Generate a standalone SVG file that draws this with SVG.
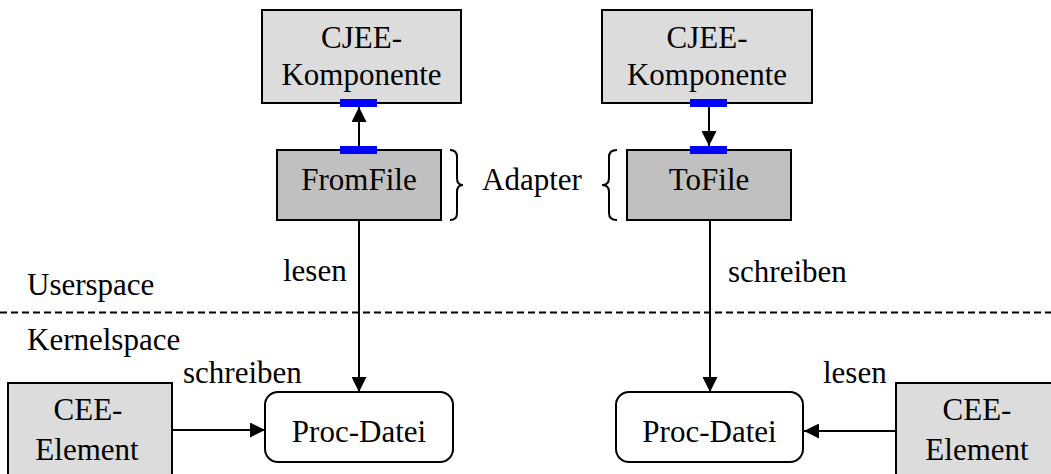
<svg xmlns="http://www.w3.org/2000/svg" width="1051" height="474" viewBox="0 0 1051 474">
  <style>
    text { font-family: "Liberation Serif", "Times New Roman", serif; font-size: 31px; fill: #000; }
    .c { text-anchor: middle; }
    .box { stroke: #000; stroke-width: 2; }
    .light { fill: #dcdcdc; }
    .dark { fill: #c0c0c0; }
    .file { fill: #fff; }
    .port { fill: #0000ff; }
    .edge { stroke: #000; stroke-width: 2; fill: none; }
    .arrow { marker-end: url(#head); }
    .brace { stroke: #000; stroke-width: 2; fill: none; }
  </style>
  <defs>
    <marker id="head" markerUnits="userSpaceOnUse" markerWidth="15" markerHeight="15" refX="15" refY="7.5" orient="auto">
      <path d="M0,0 L15,7.5 L0,15 z" fill="#000"/>
    </marker>
  </defs>

  <rect width="1051" height="474" fill="#fff"/>

  <!-- boundary between user space and kernel space -->
  <line x1="0" y1="312.5" x2="1051" y2="312.5" stroke="#000" stroke-width="2" stroke-dasharray="7,4"/>
  <text x="27" y="295">Userspace</text>
  <text x="27" y="350">Kernelspace</text>

  <!-- connectors -->
  <g id="connectors">
    <line class="edge arrow" x1="359" y1="147" x2="359" y2="107"/>
    <line class="edge arrow" x1="709" y1="107" x2="709" y2="146"/>
    <line class="edge arrow" x1="359" y1="220" x2="359" y2="392"/>
    <line class="edge arrow" x1="710" y1="220" x2="710" y2="392"/>
    <line class="edge arrow" x1="172" y1="430" x2="265" y2="430"/>
    <line class="edge arrow" x1="896" y1="431" x2="804" y2="431"/>
    <text x="283" y="281">lesen</text>
    <text x="728" y="282">schreiben</text>
    <text x="183" y="383">schreiben</text>
    <text x="823" y="383">lesen</text>
  </g>

  <g id="cjee-left">
    <rect class="box light" x="262" y="10" width="199" height="93"/>
    <text class="c" x="361.5" y="48">CJEE-</text>
    <text class="c" x="361.5" y="85">Komponente</text>
    <rect class="port" x="340" y="99" width="37" height="8"/>
  </g>

  <g id="cjee-right">
    <rect class="box light" x="602" y="10" width="210" height="93"/>
    <text class="c" x="707" y="48">CJEE-</text>
    <text class="c" x="707" y="85">Komponente</text>
    <rect class="port" x="690" y="99" width="37" height="8"/>
  </g>

  <g id="fromfile">
    <rect class="box dark" x="277" y="150" width="164" height="70"/>
    <text class="c" x="359" y="190">FromFile</text>
    <rect class="port" x="340" y="146" width="37" height="8"/>
  </g>

  <g id="tofile">
    <rect class="box dark" x="627" y="150" width="164" height="70"/>
    <text class="c" x="709" y="190">ToFile</text>
    <rect class="port" x="690" y="146" width="37" height="8"/>
  </g>

  <g id="adapter">
    <path class="brace" d="M450,150 Q457,150 457,157 L457,178 Q457,185 463,185 Q457,185 457,192 L457,213 Q457,220 450,220"/>
    <path class="brace" d="M617,150 Q609,150 609,157 L609,178 Q609,185 602,185 Q609,185 609,192 L609,213 Q609,220 617,220"/>
    <text x="482" y="190">Adapter</text>
  </g>

  <g id="proc-left">
    <rect class="box file" x="265" y="392" width="188" height="70" rx="13"/>
    <text class="c" x="359" y="442">Proc-Datei</text>
  </g>

  <g id="proc-right">
    <rect class="box file" x="616" y="392" width="187" height="70" rx="13"/>
    <text class="c" x="709.5" y="442">Proc-Datei</text>
  </g>

  <g id="cee-left">
    <rect class="box light" x="8" y="383" width="164" height="100"/>
    <text class="c" x="88" y="420">CEE-</text>
    <text class="c" x="87" y="460">Element</text>
  </g>

  <g id="cee-right">
    <rect class="box light" x="896" y="383" width="164" height="100"/>
    <text class="c" x="977" y="420">CEE-</text>
    <text class="c" x="977" y="460">Element</text>
  </g>
</svg>
